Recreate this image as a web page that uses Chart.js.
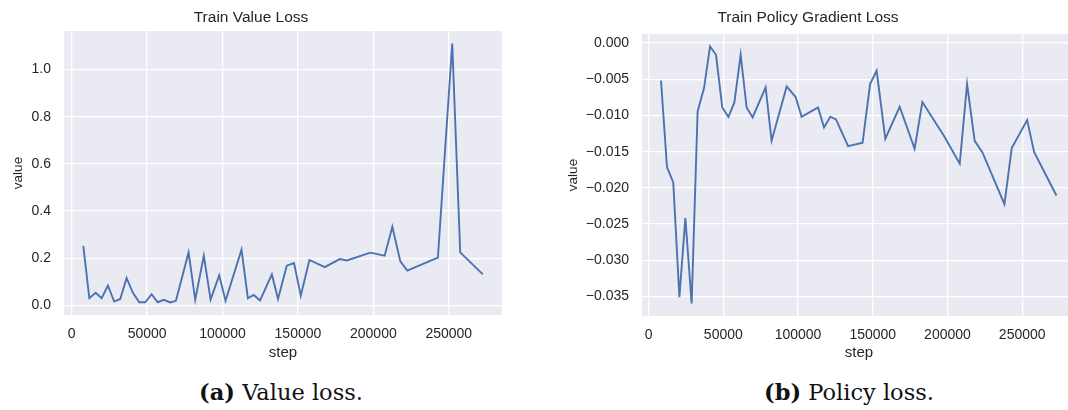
<!DOCTYPE html>
<html>
<head>
<meta charset="utf-8">
<script src="https://cdn.jsdelivr.net/npm/chart.js@4.4.1/dist/chart.umd.min.js"></script>
<style>
  html, body { margin: 0; padding: 0; background: #ffffff; overflow: hidden; }
  body { width: 1068px; height: 410px; position: relative; }
  canvas { position: absolute; top: 0; }
  #valueChart { left: 0; }
  #policyChart { left: 540px; }
  .caption {
    position: absolute; top: 381px; transform: translateX(-50%);
    font-family: "DejaVu Serif", "Liberation Serif", serif;
    font-size: 22.5px; line-height: 1; color: #111; white-space: nowrap;
  }
  .caption b { font-weight: bold; }
</style>
</head>
<body>
<canvas id="valueChart" width="530" height="370"></canvas>
<canvas id="policyChart" width="536" height="370"></canvas>
<div class="caption" id="capA" style="left:281px"><b>(a)</b> Value loss.</div>
<div class="caption" id="capB" style="left:849px"><b>(b)</b> Policy loss.</div>
<script>
// Logged training steps and losses
const valueSteps = [7700, 11700, 15900, 19900, 24000, 28200, 32200, 36400, 40600, 44800,
  48700, 53000, 57000, 61100, 65300, 69100, 77500, 81900, 87600, 92100,
  97800, 102000, 112600, 116800, 120700, 124900, 132700, 136800, 142600, 147400,
  151900, 157600, 167800, 177700, 182500, 198000, 207500, 212600, 217900, 222500,
  242800, 252300, 257600, 272600];
const valueLoss = [0.253, 0.031, 0.054, 0.031, 0.085, 0.017, 0.028, 0.117, 0.054, 0.014,
  0.014, 0.048, 0.014, 0.024, 0.013, 0.020, 0.225, 0.025, 0.211, 0.025,
  0.128, 0.020, 0.237, 0.031, 0.045, 0.022, 0.132, 0.028, 0.169, 0.180,
  0.042, 0.193, 0.163, 0.197, 0.191, 0.224, 0.211, 0.334, 0.187, 0.148,
  0.203, 1.110, 0.225, 0.132];

const policySteps = [8300, 12300, 16500, 20600, 24600, 28800, 32800, 37100, 41100, 45100,
  49300, 53400, 57400, 61600, 65600, 69600, 78300, 82300, 92400, 98400,
  102400, 113400, 117400, 121600, 125400, 133500, 143200, 148200, 152600, 158400,
  168000, 178000, 183200, 197900, 208200, 213100, 218200, 223400, 238100, 243000,
  253300, 258000, 272900];
const policyLoss = [-0.00517, -0.01713, -0.01925, -0.0351, -0.02417, -0.03597, -0.00945, -0.00622, -0.00047, -0.00162,
  -0.0089, -0.01022, -0.0082, -0.00162, -0.0089, -0.01028, -0.00613, -0.0135, -0.0060, -0.00746,
  -0.01018, -0.0089, -0.01166, -0.01018, -0.01055, -0.01423, -0.01377, -0.00566, -0.00383, -0.01322,
  -0.0088, -0.0146, -0.00815, -0.0129, -0.01667, -0.00566, -0.0135, -0.01511, -0.02224, -0.0145,
  -0.01064, -0.01506, -0.02105];

// Tick positions
const stepTicks = [0, 50000, 100000, 150000, 200000, 250000];
const valueTicks = [0.0, 0.2, 0.4, 0.6, 0.8, 1.0];
const policyTicks = [-0.035, -0.030, -0.025, -0.020, -0.015, -0.010, -0.005, 0.000];

const TEXT = '#262626';
const SANS = '"Liberation Sans", Arial, sans-serif';

// Paints the grey panel behind the grid
const panelBackground = {
  id: 'panelBackground',
  beforeDraw(chart) {
    const { ctx, chartArea: a } = chart;
    ctx.save();
    ctx.fillStyle = '#EAEAF2';
    ctx.fillRect(a.left, a.top, a.right - a.left, a.bottom - a.top);
    ctx.restore();
  }
};

function fmt(v, digits) {
  const r = Math.round(v * 1e6) / 1e6;
  const s = Math.abs(r).toFixed(digits);
  return (r < 0 ? '\u2212' : '') + s;
}

function makeChart(id, cfg) {
  const xs = cfg.steps, ys = cfg.values;
  return new Chart(document.getElementById(id), {
    type: 'line',
    data: {
      datasets: [{
        data: xs.map((x, i) => ({ x, y: ys[i] })),
        borderColor: '#4C72B0',
        borderWidth: 1.9,
        pointRadius: 0,
        tension: 0,
        fill: false
      }]
    },
    options: {
      responsive: false,
      animation: false,
      devicePixelRatio: 1,
      layout: { padding: { left: 0, right: cfg.padRight, top: 0, bottom: 0 } },
      plugins: {
        legend: { display: false },
        tooltip: { enabled: false },
        title: {
          display: true,
          text: cfg.title,
          color: TEXT,
          font: { family: SANS, size: 15.5, weight: 'normal', lineHeight: 1.2 },
          padding: { top: cfg.titleTop, bottom: cfg.areaTop - cfg.titleTop - 18.6 }
        }
      },
      scales: {
        x: {
          type: 'linear',
          min: cfg.xMin, max: cfg.xMax,
          afterBuildTicks: s => { s.ticks = stepTicks.map(v => ({ value: v })); },
          afterFit: s => { s.height = 370 - cfg.areaBottom; },
          ticks: {
            includeBounds: false, padding: 11, color: TEXT, maxRotation: 0,
            font: { family: SANS, size: 14 },
            callback: v => String(v)
          },
          grid: { color: '#ffffff', lineWidth: 1.3, drawTicks: false },
          border: { display: false },
          title: {
            display: true, text: 'step', color: TEXT,
            font: { family: SANS, size: 15, lineHeight: 1.2 },
            padding: { top: 0, bottom: 8 }
          }
        },
        y: {
          type: 'linear',
          min: cfg.yMin, max: cfg.yMax,
          afterBuildTicks: s => { s.ticks = cfg.yTicks.map(v => ({ value: v })); },
          afterFit: s => { s.width = cfg.areaLeft; },
          ticks: {
            includeBounds: false, padding: 13, color: TEXT,
            font: { family: SANS, size: 14 },
            callback: v => fmt(v, cfg.digits)
          },
          grid: { color: '#ffffff', lineWidth: 1.3, drawTicks: false },
          border: { display: false },
          title: {
            display: true, text: 'value', color: TEXT,
            font: { family: SANS, size: 13.5, lineHeight: 1.2 },
            padding: { top: cfg.yTitleX - 8, bottom: 0 }
          }
        }
      }
    },
    plugins: [panelBackground]
  });
}

makeChart('valueChart', {
  title: 'Train Value Loss',
  steps: valueSteps, values: valueLoss, yTicks: valueTicks, digits: 1,
  xMin: -5100, xMax: 285300, yMin: -0.04, yMax: 1.163,
  areaLeft: 64, areaTop: 31, areaBottom: 315, padRight: 530 - 502,
  titleTop: 8, yTitleX: 18
});

makeChart('policyChart', {
  title: 'Train Policy Gradient Loss',
  steps: policySteps, values: policyLoss, yTicks: policyTicks, digits: 3,
  xMin: -4420, xMax: 286000, yMin: -0.0377, yMax: 0.00125,
  areaLeft: 102, areaTop: 34, areaBottom: 316, padRight: 0,
  titleTop: 8, yTitleX: 33
});
</script>
</body>
</html>
